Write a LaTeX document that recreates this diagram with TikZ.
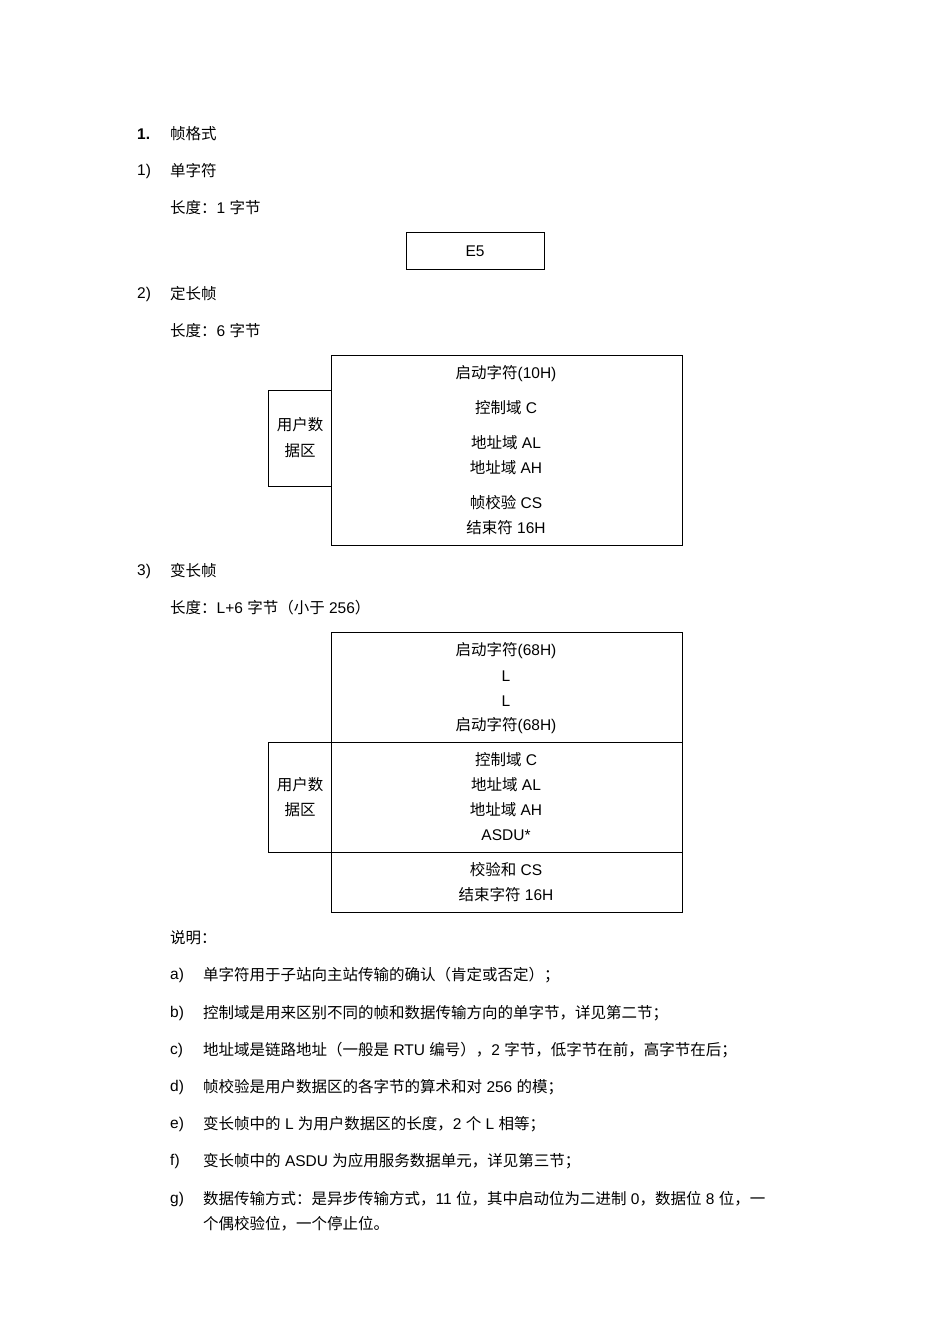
\documentclass[tikz,border=0pt]{standalone}
\usepackage{fontspec}
\setmainfont{Liberation Sans}
\newfontfamily\cjk{Noto Sans CJK SC}
\newcommand{\zh}[1]{{\cjk #1}}
\begin{document}
\begin{tikzpicture}[x=1pt,y=-1pt,
  txt/.style={anchor=west,inner sep=0pt,font=\fontsize{15.5}{18}\selectfont},
  ctr/.style={anchor=center,inner sep=0pt,font=\fontsize{15.5}{18}\selectfont},
  frame/.style={draw,line width=0.8pt}]
\useasboundingbox[fill=white] (0,0) rectangle (950,1344);
\node[txt] (h1n) at (137,134) {\textbf{1.}};
\node[txt] (h1) at (170,134) {\zh{帧格式}};
\node[txt] (s1n) at (137,171) {1)};
\node[txt] (s1) at (170,171) {\zh{单字符}};
\node[txt] (l1) at (170,208) {\zh{长度：}1 \zh{字节}};
\draw[frame] (406,232) rectangle (544,269);
\node[ctr] (e5) at (475,251) {E5};
\node[txt] (s2n) at (137,294) {2)};
\node[txt] (s2) at (170,294) {\zh{定长帧}};
\node[txt] (l2) at (170,331) {\zh{长度：}6 \zh{字节}};
\draw[frame] (331,355) rectangle (682,545);
\draw[frame] (331,390) -- (268,390) -- (268,486) -- (331,486);
\node[ctr] (a1) at (506,374) {\zh{启动字符}(10H)};
\node[ctr] (a2) at (506,408) {\zh{控制域} C};
\node[ctr] (a3) at (506,443) {\zh{地址域} AL};
\node[ctr] (a4) at (506,468) {\zh{地址域} AH};
\node[ctr] (a5) at (506,503) {\zh{帧校验} CS};
\node[ctr] (a6) at (506,528) {\zh{结束符} 16H};
\node[ctr] (u1) at (300,425) {\zh{用户数}};
\node[ctr] (u2) at (300,451) {\zh{据区}};
\node[txt] (s3n) at (137,571) {3)};
\node[txt] (s3) at (170,571) {\zh{变长帧}};
\node[txt] (l3) at (170,608) {\zh{长度：}L+6 \zh{字节（小于} 256\zh{）}};
\draw[frame] (331,632) rectangle (682,912);
\draw[frame] (268,742) rectangle (682,852);
\draw[frame] (331,742) -- (331,852);
\node[ctr] (b1) at (506,651) {\zh{启动字符}(68H)};
\node[ctr] (b2) at (506,676) {L};
\node[ctr] (b3) at (506,701) {L};
\node[ctr] (b4) at (506,726) {\zh{启动字符}(68H)};
\node[ctr] (b5) at (506,760) {\zh{控制域} C};
\node[ctr] (b6) at (506,785) {\zh{地址域} AL};
\node[ctr] (b7) at (506,810) {\zh{地址域} AH};
\node[ctr] (b8) at (506,835) {ASDU*};
\node[ctr] (b9) at (506,870) {\zh{校验和} CS};
\node[ctr] (b10) at (506,895) {\zh{结束字符} 16H};
\node[ctr] (v1) at (300,785) {\zh{用户数}};
\node[ctr] (v2) at (300,810) {\zh{据区}};
\node[txt] (sm) at (170,938) {\zh{说明：}};
\node[txt] (na) at (170,975) {a)};
\node[txt] (ta) at (203,975) {\zh{单字符用于子站向主站传输的确认（肯定或否定）；}};
\node[txt] (nb) at (170,1013) {b)};
\node[txt] (tb) at (203,1013) {\zh{控制域是用来区别不同的帧和数据传输方向的单字节，详见第二节；}};
\node[txt] (nc) at (170,1050) {c)};
\node[txt] (tc) at (203,1050) {\zh{地址域是链路地址（一般是} RTU \zh{编号），}2 \zh{字节，低字节在前，高字节在后；}};
\node[txt] (nd) at (170,1087) {d)};
\node[txt] (td) at (203,1087) {\zh{帧校验是用户数据区的各字节的算术和对} 256 \zh{的模；}};
\node[txt] (ne) at (170,1124) {e)};
\node[txt] (te) at (203,1124) {\zh{变长帧中的} L \zh{为用户数据区的长度，}2 \zh{个} L \zh{相等；}};
\node[txt] (nf) at (170,1161) {f)};
\node[txt] (tf) at (203,1161) {\zh{变长帧中的} ASDU \zh{为应用服务数据单元，详见第三节；}};
\node[txt] (ng) at (170,1199) {g)};
\node[txt] (tg) at (203,1199) {\zh{数据传输方式：是异步传输方式，}11 \zh{位，其中启动位为二进制} 0\zh{，数据位} 8 \zh{位，一}};
\node[txt] (tg2) at (203,1224) {\zh{个偶校验位，一个停止位。}};
\end{tikzpicture}
\end{document}
